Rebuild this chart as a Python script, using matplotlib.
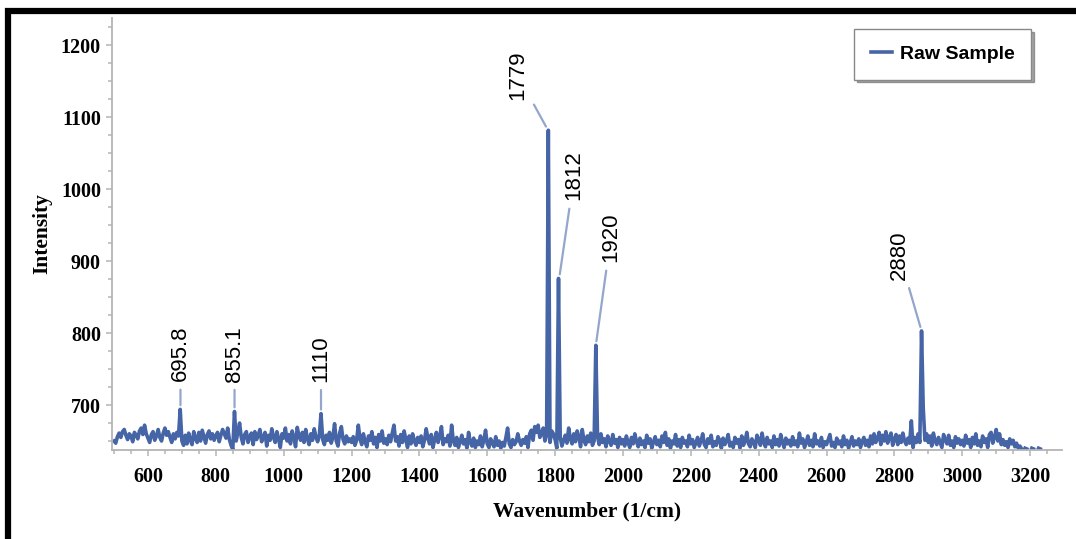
import numpy as np
import matplotlib
matplotlib.use("Agg")
import matplotlib.pyplot as plt
from matplotlib.lines import Line2D
from matplotlib.ticker import MultipleLocator

# ---------------------- Data ---------------------- #
# raw spectrum, one value every 5 cm-1 starting at 500 cm-1
nan = float("nan")
intensity = [
    650, 647, 656, 661, 655, 663, 666, 658, 652, 660, 657, 649, 662, 658, 653, 664, 668, 659, 672, 660,  # 500
    654, 648, 659, 663, 651, 657, 666, 655, 650, 661, 668, 658, 663, 655, 648, 660, 653, 662, 657, 694,  # 600
    650, 644, 658, 646, 661, 651, 645, 663, 654, 648, 662, 650, 665, 656, 647, 659, 664, 653, 660, 651,  # 700
    657, 662, 649, 658, 666, 660, 654, 668, 652, 644, 638, 691, 650, 662, 675, 655, 646, 659, 663, 648,  # 800
    656, 661, 645, 663, 652, 658, 666, 649, 655, 662, 643, 658, 651, 667, 655, 648, 663, 653, 641, 660,  # 900
    654, 668, 650, 659, 646, 664, 655, 642, 669, 657, 651, 662, 648, 666, 653, 645, 660, 651, 667, 656,  # 1000
    649, 657, 688, 652, 645, 658, 651, 662, 647, 655, 674, 650, 643, 661, 670, 652, 646, 657, 649, 653,  # 1100
    648, 656, 644, 651, 672, 653, 645, 660, 649, 642, 657, 651, 663, 646, 655, 641, 659, 650, 664, 647,  # 1200
    653, 645, 658, 649, 661, 672, 650, 656, 643, 659, 648, 664, 652, 641, 657, 646, 660, 650, 644, 655,  # 1300
    648, 657, 642, 651, 667, 654, 646, 659, 641, 652, 662, 648, 656, 670, 645, 653, 649, 658, 643, 672,  # 1400
    650, 644, 655, 641, 649, 658, 646, 652, 640, 662, 648, 643, 654, 641, 650, 645, 657, 642, 651, 665,  # 1500
    646, 641, 653, 647, 642, 656, 644, 650, 640, 648, 643, 655, 668, 646, 641, 652, 645, 649, 660, 650,  # 1600
    644, 652, 647, 656, 641, 660, 665, 651, 670, 662, 672, 655, 660, 668, 650, 658, 1082, 648, 664, 660,  # 1700
    652, 640, 876, 655, 643, 651, 658, 647, 668, 653, 646, 660, 649, 664, 656, 642, 666, 651, 645, 657,  # 1800
    649, 661, 644, 650, 783, 656, 645, 660, 648, 653, 642, 657, 650, 644, 659, 647, 652, 641, 655, 646,  # 1900
    652, 643, 657, 648, 641, 655, 646, 660, 649, 642, 654, 645, 650, 641, 658, 647, 653, 640, 649, 656,  # 2000
    645, 651, 642, 657, 648, 662, 644, 653, 640, 650, 646, 659, 643, 652, 641, 655, 647, 650, 642, 658,  # 2100
    646, 652, 641, 648, 655, 643, 650, 660, 645, 641, 653, 647, 658, 642, 649, 644, 656, 651, 640, 654,  # 2200
    645, 650, 659, 643, 648, 641, 655, 647, 652, 640, 657, 644, 650, 662, 646, 642, 653, 648, 641, 658,  # 2300
    652, 644, 661, 648, 642, 655, 646, 650, 641, 657, 645, 652, 643, 659, 648, 641, 654, 646, 651, 643,  # 2400
    656, 645, 650, 642, 661, 647, 653, 641, 648, 657, 644, 651, 642, 660, 646, 650, 643, 655, 641, 649,  # 2500
    645, 652, 659, 643, 648, 641, 654, 646, 650, 642, 657, 645, 651, 640, 648, 656, 643, 650, 645, 653,  # 2600
    641, 649, 655, 644, 651, 642, 657, 646, 660, 648, 653, 662, 645, 658, 650, 663, 647, 655, 661, 644,  # 2700
    652, 659, 645, 657, 648, 661, 650, 645, 654, 647, 678, 641, 655, 648, 660, 648, 803, 696, 651, 660,  # 2800
    648, 657, 643, 661, 650, 645, 655, 648, 641, 659, 652, 646, 658, 644, 650, 641, 656, 647, 653, 645,  # 2900
    651, 643, 658, 647, 652, 641, 655, 646, 660, 644, 650, 642, 657, 648, 653, 641, 659, 662, 647, 655,  # 3000
    666, 650, 660, 645, 652, 644, 649, 641, 653, 646, 651, 642, 647, 640, 643, 639, nan, 640, 639, nan,  # 3100
    nan, 640, 639, nan, nan, 640, 639,  # 3200
]
wavenumber = 500 + 5 * np.arange(len(intensity))
intensity = np.array(intensity, dtype=float)

peak_pos = [695.8, 855.1, 1110, 1779, 1812, 1920, 2880]
peak_labels = ["695.8", "855.1", "1110", "1779", "1812", "1920", "2880"]
# where each label sits relative to its peak top, in pixels
label_offsets = [(0, 28), (0, 30), (0, 32), (-30, 30), (15, 78), (15, 83), (-22, 51)]

line_color = "#4565a6"
leader_color = "#93a6cc"
axis_gray = "#b4b4b4"

# ---------------------- Plot ---------------------- #
fig = plt.figure(figsize=(10.76, 5.39), dpi=100)
ax = fig.add_axes([112 / 1076, 1 - 450 / 539, 950 / 1076, 432 / 539])

ax.plot(wavenumber, intensity, color=line_color, lw=2.6, label="Raw Sample")

ax.set_xlim(494, 3294)
ax.set_ylim(637.5, 1238)
ax.xaxis.set_major_locator(MultipleLocator(200))
ax.xaxis.set_minor_locator(MultipleLocator(50))
ax.yaxis.set_major_locator(MultipleLocator(100))
ax.yaxis.set_minor_locator(MultipleLocator(25))
ax.set_xticks(np.arange(600, 3201, 200))

for side in ["top", "right"]:
    ax.spines[side].set_visible(False)
for side in ["left", "bottom"]:
    ax.spines[side].set_color(axis_gray)
    ax.spines[side].set_linewidth(1.3)
ax.tick_params(which="both", direction="out", color=axis_gray, width=1.1)
ax.tick_params(which="major", length=4)
ax.tick_params(which="minor", length=3)
ax.tick_params(axis="x", pad=8)
ax.tick_params(axis="y", pad=4)

for lab in ax.get_xticklabels() + ax.get_yticklabels():
    lab.set_fontfamily("Liberation Serif")
    lab.set_fontweight("bold")
    lab.set_fontsize(14.5)

label_font = dict(family="Liberation Serif", weight="bold", size=15.5)
ax.set_xlabel("Wavenumber (1/cm)", fontdict=label_font, labelpad=11)
ax.set_ylabel("Intensity", fontdict=label_font, labelpad=6)

# peak labels with leader lines
for pos, text, (dx, dy) in zip(peak_pos, peak_labels, label_offsets):
    near = np.abs(wavenumber - pos) <= 5
    top = np.nanmax(intensity[near])
    ax.annotate(text, xy=(pos, top), xytext=(dx, dy), textcoords="offset pixels",
                rotation=90, ha="center", va="bottom",
                family="Liberation Sans", fontsize=16,
                arrowprops=dict(arrowstyle="-", color=leader_color, lw=1.6,
                                shrinkA=4, shrinkB=3))

leg = ax.legend(loc="upper right", bbox_to_anchor=((1031 - 112) / 950, (450 - 29) / 432),
                borderaxespad=0, fancybox=False, shadow=True, handlelength=1.1,
                handletextpad=0.4, borderpad=0.85,
                prop=dict(family="Liberation Sans", weight="bold", size=14))
leg.get_frame().set_edgecolor("#888888")
leg.get_frame().set_linewidth(1.0)

# black frame round the picture (only top and left show)
fig.add_artist(Line2D([8 / 1076, 8 / 1076, 1.0], [0.0, 1 - 11 / 539, 1 - 11 / 539],
                      transform=fig.transFigure, color="black", lw=4.5,
                      solid_joinstyle="miter"))

fig.savefig("out.png", dpi=100)
